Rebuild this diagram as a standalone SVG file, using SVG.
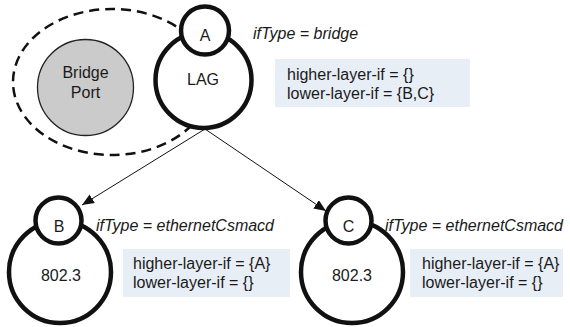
<svg xmlns="http://www.w3.org/2000/svg" width="570" height="327" viewBox="0 0 570 327">
  <style>
    .ring { fill: #ffffff; stroke: #111111; stroke-width: 4.5; }
    .lbl { font-family: "Liberation Sans", Arial, sans-serif; font-size: 16px; fill: #1a1a1a; text-anchor: middle; }
    .type { font-family: "Liberation Sans", Arial, sans-serif; font-size: 16px; font-style: italic; fill: #1a1a1a; }
    .box { fill: #e8eef6; stroke: none; }
    .attr { font-family: "Liberation Sans", Arial, sans-serif; font-size: 16px; fill: #1a1a1a; }
    .conn { stroke: #111111; stroke-width: 1; fill: none; marker-end: url(#arrow); }
  </style>
  <defs>
    <marker id="arrow" viewBox="0 0 12 10" refX="12" refY="5" markerWidth="12" markerHeight="10" markerUnits="userSpaceOnUse" orient="auto">
      <path d="M0,0 L12,5 L0,10 Z" fill="#111111"/>
    </marker>
  </defs>

  <g id="bridge-group">
    <ellipse cx="112" cy="82" rx="99" ry="73" fill="none" stroke="#111111" stroke-width="2.5" stroke-dasharray="10,6"/>
  </g>

  <g id="node-bridge-port">
    <circle cx="85.5" cy="87.5" r="48" fill="#cbcbcb" stroke="#222222" stroke-width="1.3"/>
    <text class="lbl" x="85.5" y="78">Bridge</text>
    <text class="lbl" x="85.5" y="98">Port</text>
  </g>

  <g id="node-A">
    <circle class="ring" cx="203.5" cy="80" r="48"/>
    <circle class="ring" cx="205" cy="30.5" r="24"/>
    <text class="lbl" x="205" y="41">A</text>
    <text class="lbl" x="203" y="85">LAG</text>
    <text class="type" x="253" y="39">ifType = bridge</text>
    <rect class="box" x="275" y="59" width="195" height="48"/>
    <text class="attr" x="287" y="80">higher-layer-if = {}</text>
    <text class="attr" x="287" y="99">lower-layer-if = {B,C}</text>
  </g>

  <g id="connectors">
    <line class="conn" x1="205" y1="129" x2="82" y2="205"/>
    <line class="conn" x1="205" y1="129" x2="326" y2="211"/>
  </g>

  <g id="node-B">
    <circle class="ring" cx="60" cy="272" r="51"/>
    <circle class="ring" cx="58.5" cy="220.5" r="23"/>
    <text class="lbl" x="59" y="232">B</text>
    <text class="lbl" x="61" y="281">802.3</text>
    <text class="type" x="96" y="231">ifType = ethernetCsmacd</text>
    <rect class="box" x="123" y="249" width="167" height="48"/>
    <text class="attr" x="133" y="269">higher-layer-if = {A}</text>
    <text class="attr" x="133" y="288">lower-layer-if = {}</text>
  </g>

  <g id="node-C">
    <circle class="ring" cx="352" cy="272" r="51"/>
    <circle class="ring" cx="348.5" cy="220.5" r="23"/>
    <text class="lbl" x="348.5" y="232">C</text>
    <text class="lbl" x="352" y="281">802.3</text>
    <text class="type" x="385" y="231">ifType = ethernetCsmacd</text>
    <rect class="box" x="410" y="249" width="153" height="48"/>
    <text class="attr" x="422" y="269">higher-layer-if = {A}</text>
    <text class="attr" x="422" y="288">lower-layer-if = {}</text>
  </g>
</svg>
